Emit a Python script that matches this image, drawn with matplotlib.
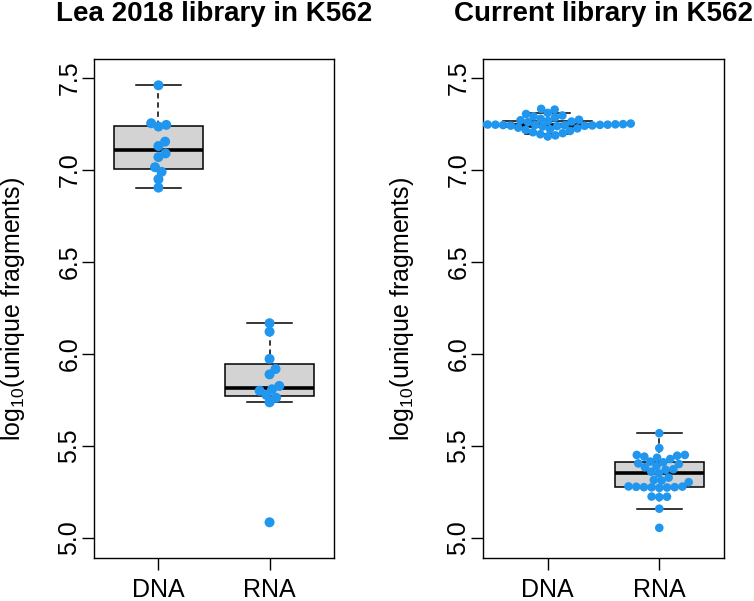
import numpy as np
import matplotlib
matplotlib.use("Agg")
import matplotlib.pyplot as plt

plt.rcParams['font.family'] = ['Liberation Sans', 'DejaVu Sans']
plt.rcParams['mathtext.fontset'] = 'custom'
plt.rcParams['mathtext.rm'] = 'Liberation Sans'
plt.rcParams['mathtext.it'] = 'Liberation Sans:italic'

# ---------------- data ----------------
categories = ["DNA", "RNA"]
titles = ["Lea 2018 library in K562", "Current library in K562"]
ylabel = r"log$_{10}$(unique fragments)"
yticks = [5.0, 5.5, 6.0, 6.5, 7.0, 7.5]

lea_dna = [7.460, 7.254, 7.245, 7.236, 7.154, 7.130, 7.090, 7.070,
           7.015, 6.990, 6.950, 6.904]
lea_rna = [6.167, 6.121, 5.973, 5.918, 5.889, 5.826, 5.808, 5.800,
           5.777, 5.762, 5.737, 5.085]
cur_dna = [7.182, 7.188, 7.194, 7.200, 7.205, 7.212, 7.218, 7.222, 7.226,
           7.230, 7.236, 7.238, 7.240, 7.241, 7.242, 7.243, 7.244,
           7.245, 7.245, 7.246, 7.246, 7.247, 7.248, 7.248, 7.249,
           7.250, 7.252, 7.256, 7.260, 7.263, 7.266, 7.270, 7.273, 7.278,
           7.285, 7.292, 7.296, 7.304, 7.310, 7.328, 7.332]
cur_rna = [5.569, 5.488, 5.451, 5.447, 5.436, 5.429, 5.442, 5.451, 5.415,
           5.411, 5.405, 5.402, 5.391, 5.384, 5.370, 5.373, 5.360, 5.351,
           5.328, 5.315, 5.312, 5.303, 5.280, 5.278, 5.276, 5.275, 5.274,
           5.272, 5.276, 5.279, 5.225, 5.222, 5.224, 5.159, 5.055]

panels = [(lea_dna, lea_rna), (cur_dna, cur_rna)]

point_color = "#2196EE"
box_fill = "#D3D3D3"


def fivenum(v):
    x = np.sort(np.asarray(v, float))
    n = len(x)
    n4 = np.floor((n + 3) / 2) / 2
    d = np.array([1, n4, (n + 1) / 2, n + 1 - n4, n])
    return 0.5 * (x[np.floor(d - 1).astype(int)] + x[np.ceil(d - 1).astype(int)])


def box_stats(v):
    f = fivenum(v)
    iqr = f[3] - f[1]
    x = np.asarray(v, float)
    lo = x[x >= f[1] - 1.5 * iqr].min()
    hi = x[x <= f[3] + 1.5 * iqr].max()
    return dict(med=f[2], q1=f[1], q3=f[3], whislo=lo, whishi=hi, fliers=[])


def swarm(vals, spacing_px, ypx, xpx):
    """R beeswarm 'swarm' method, priority ascending."""
    v = np.asarray(vals, float)
    ys = v * ypx / spacing_px
    order = np.argsort(v, kind="stable")
    xs = np.zeros(len(v))
    placed = []
    for i in order:
        if placed:
            p = np.array(placed)
            dy = ys[i] - ys[p]
            near = np.abs(dy) < 1
            if near.any():
                xn = xs[p][near]
                dn = dy[near]
                off = np.sqrt(1 - dn ** 2)
                cand = np.concatenate([[0.0], xn + off, xn - off])
                good = [c for c in cand
                        if np.all((c - xn) ** 2 + dn ** 2 >= 0.999)]
                good = np.array(good)
                xs[i] = good[np.argmin(np.abs(good))]
        placed.append(i)
    return xs * spacing_px / xpx


W, H = 754, 601
fig = plt.figure(figsize=(W / 100, H / 100), dpi=100)

ylim = (4.891, 7.603)
xlim = (0.42, 2.58)
axes_px = [(94, 334), (483, 724)]
top, bot = 59, 558
dot_px = [10.0, 8.6]
spacing = [8.0, 7.7]

for k, (ax_x, data) in enumerate(zip(axes_px, panels)):
    ax = fig.add_axes([ax_x[0] / W, (H - bot) / H,
                       (ax_x[1] - ax_x[0]) / W, (bot - top) / H])
    ax.set_xlim(*xlim)
    ax.set_ylim(*ylim)
    ypx = (bot - top) / (ylim[1] - ylim[0])
    xpx = (ax_x[1] - ax_x[0]) / (xlim[1] - xlim[0])

    stats = [box_stats(d) for d in data]
    ax.bxp(stats, positions=[1, 2], widths=0.8, showfliers=False,
           patch_artist=True, capwidths=0.4,
           boxprops=dict(facecolor=box_fill, edgecolor="black", linewidth=1.1),
           medianprops=dict(color="black", linewidth=2.6, solid_capstyle="butt"),
           whiskerprops=dict(color="black", linewidth=1.1,
                             linestyle=(0, (3.5, 2.5))),
           capprops=dict(color="black", linewidth=1.1), zorder=2)

    s = (dot_px[k] * 72 / 100) ** 2
    for j, d in enumerate(data):
        xo = swarm(d, spacing[k], ypx, xpx)
        ax.scatter(np.full(len(d), j + 1.0) + xo, d, s=s, color=point_color,
                   edgecolors="none", zorder=3)

    ax.set_xticks([1, 2])
    ax.set_xticklabels(categories)
    ax.set_yticks(yticks)
    ax.set_yticklabels([f"{t:.1f}" for t in yticks])
    ax.tick_params(axis="both", direction="out", length=8.6, width=1.0,
                   labelsize=18, color="black")
    ax.tick_params(axis="x", pad=5.5)
    ax.tick_params(axis="y", pad=0.5, labelrotation=90)
    for lab in ax.get_yticklabels():
        lab.set_va("center")
    for sp in ax.spines.values():
        sp.set_linewidth(1.0)
    ax.set_title(titles[k], fontsize=20, fontweight="bold", pad=27.4)
    cx = (ax_x[0] - 81) / W
    fig.text(cx, (H - (top + bot) / 2) / H, ylabel, rotation=90,
             ha="center", va="center", fontsize=18)

fig.savefig("out.png", dpi=100)
